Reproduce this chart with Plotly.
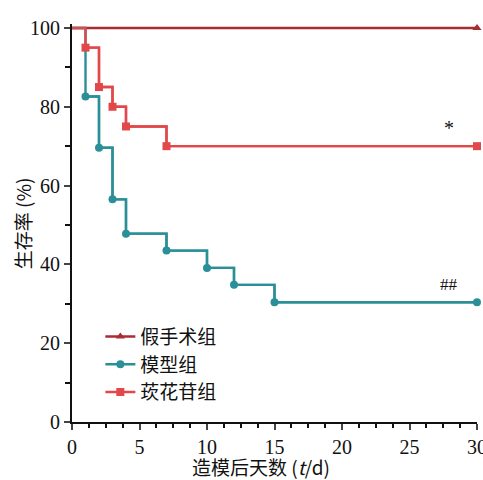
import plotly.graph_objects as go

sham_x = [0, 30]
sham_y = [100, 100]
model_x = [0, 1, 2, 3, 4, 7, 10, 12, 15, 30]
model_y = [100, 82.6, 69.6, 56.5, 47.8, 43.5, 39.1, 34.8, 30.4, 30.4]
herb_x = [0, 1, 2, 3, 4, 7, 30]
herb_y = [100, 95, 85, 80, 75, 70, 70]

names = ["假手术组", "模型组", "莰花苷组"]
colors = ["#A82D33", "#2B8F98", "#E2484A"]
symbols = ["triangle-up", "circle", "square"]
xticks = [0, 5, 10, 15, 20, 25, 30]
yticks = [0, 20, 40, 60, 80, 100]
xtitle = "造模后天数 (<i>t</i>/d)"
ytitle = "生存率 (%)"

serif = "Liberation Serif, Times New Roman, serif"
cjk = "Noto Sans CJK SC"

fig = go.Figure()
for xs, ys, nm, c, s in zip([sham_x, model_x, herb_x], [sham_y, model_y, herb_y], names, colors, symbols):
    # full step line from day 0
    fig.add_trace(go.Scatter(
        x=xs, y=ys, mode="lines", line=dict(color=c, width=2.4, shape="hv"),
        showlegend=False, hoverinfo="skip", legendgroup=nm,
    ))
    # markers at each event (line segment coincides with the step line)
    fig.add_trace(go.Scatter(
        x=xs[1:], y=ys[1:], name=nm, mode="lines+markers", legendgroup=nm,
        line=dict(color=c, width=2.4, shape="hv"),
        marker=dict(symbol=s, size=8, color=c, line=dict(width=0)),
        cliponaxis=False,
    ))

fig.add_annotation(x=27.9, y=74.5, text="*", showarrow=False, font=dict(family=serif, size=20, color="#111"))
fig.add_annotation(x=27.9, y=35, text="##", showarrow=False, font=dict(family=serif, size=17, color="#111"))

# axis titles
fig.add_annotation(x=0.467, y=-0.113, xref="paper", yref="paper", text=xtitle, showarrow=False,
                   xanchor="center", yanchor="middle", font=dict(family=cjk, size=19, color="#111"))
fig.add_annotation(x=-0.123, y=0.5, xref="paper", yref="paper", text=ytitle, showarrow=False,
                   textangle=-90, xanchor="center", yanchor="middle", font=dict(family=cjk, size=19, color="#111"))

fig.update_layout(
    width=483, height=480,
    margin=dict(l=72, r=6, t=24, b=58),
    paper_bgcolor="white", plot_bgcolor="white",
    font=dict(family=serif, size=20, color="#111"),
    showlegend=True,
    legend=dict(x=0.07, y=0.262, xanchor="left", yanchor="top", bgcolor="rgba(0,0,0,0)",
                font=dict(family=cjk, size=19, color="#111"), tracegroupgap=0),
    xaxis=dict(range=[0, 30], tickvals=xticks, ticks="outside", ticklen=6, tickwidth=2,
               showline=True, linecolor="#111", linewidth=2, showgrid=False, zeroline=False,
               ticklabeloverflow="allow", automargin=False,
               minor=dict(dtick=1.25, tick0=0, ticks="outside", ticklen=4, tickwidth=1.5, tickcolor="#111"),
               tickfont=dict(family=serif, size=20)),
    yaxis=dict(range=[0, 101], tickvals=yticks, ticks="outside", ticklen=6, tickwidth=2,
               showline=True, linecolor="#111", linewidth=2, showgrid=False, zeroline=False,
               ticklabeloverflow="allow", automargin=False,
               minor=dict(dtick=10, ticks="outside", ticklen=5, tickwidth=1.5, tickcolor="#111"),
               tickfont=dict(family=serif, size=20)),
)

fig.write_html("out.html", config={"displayModeBar": False},
               post_script="document.body.style.margin='0';")
